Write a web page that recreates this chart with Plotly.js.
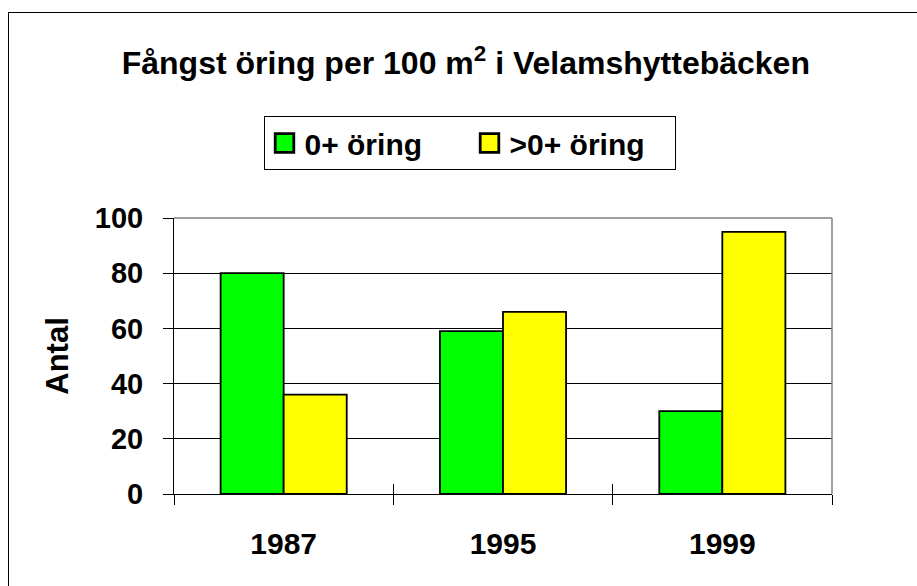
<!DOCTYPE html>
<html>
<head>
<meta charset="utf-8">
<script src="https://cdn.plot.ly/plotly-3.0.1.min.js"></script>
<style>
  html, body { margin: 0; padding: 0; background: #fff; }
  #chart { width: 917px; height: 586px; }
  #frame { position: absolute; left: 8px; top: 12px; width: 2000px; height: 2000px;
           border-left: 1.5px solid #000; border-top: 1.5px solid #000; pointer-events: none; }
  .legendpoints path { transform: translate(20px, 0px) scale(1.55); }
</style>
</head>
<body>
<div id="chart"></div>
<div id="frame"></div>
<script>
// Data
const years = ['1987', '1995', '1999'];
const youngTrout = [80, 59, 30];     // 0+ öring
const olderTrout = [36, 66, 95];     // >0+ öring
const seriesNames = ['0+ öring', '>0+ öring'];
const yTicks = [0, 20, 40, 60, 80, 100];

const FONT = 'Liberation Sans, Arial, sans-serif';

const traces = [
  {
    type: 'bar', name: seriesNames[0], x: years, y: youngTrout,
    marker: { color: '#00FF00', line: { color: '#000', width: 1.8 } },
    hoverinfo: 'x+y'
  },
  {
    type: 'bar', name: seriesNames[1], x: years, y: olderTrout,
    marker: { color: '#FFFF00', line: { color: '#000', width: 1.8 } },
    hoverinfo: 'x+y'
  },
  {
    // invisible helper on overlay axis to draw the inner half of the crossing category ticks
    type: 'scatter', mode: 'none', x: years, y: youngTrout, xaxis: 'x2',
    showlegend: false, hoverinfo: 'skip'
  }
];

const layout = {
  width: 917, height: 586,
  paper_bgcolor: '#fff', plot_bgcolor: '#fff',
  margin: { l: 174, r: 85, t: 218, b: 92 },
  font: { family: FONT, color: '#000', size: 30, weight: 'bold' },
  title: {
    text: 'Fångst öring per 100 m<sup>2</sup> i Velamshyttebäcken',
    font: { family: FONT, size: 32, color: '#000', weight: 'bold' },
    xref: 'container', x: 0.508, xanchor: 'center',
    yref: 'container', y: 0.892, yanchor: 'middle'
  },
  barmode: 'group', bargap: 0.425, bargroupgap: 0,
  showlegend: true,
  legend: {
    orientation: 'h',
    xref: 'container', x: 0.512, xanchor: 'center',
    yref: 'container', y: 0.802, yanchor: 'top',
    bgcolor: '#fff', bordercolor: '#000', borderwidth: 1,
    font: { family: FONT, size: 30, color: '#000', weight: 'bold' },
    entrywidth: 160, entrywidthmode: 'pixels',
    traceorder: 'normal'
  },
  xaxis: {
    type: 'category', range: [-0.5, 2.5],
    showline: true, linecolor: '#000', linewidth: 1,
    ticks: 'outside', ticklen: 10, tickcolor: '#000', tickwidth: 1,
    tickson: 'boundaries', showgrid: false, zeroline: false,
    tickfont: { family: FONT, size: 30, color: '#000', weight: 'bold' },
    ticklabelstandoff: 23,
    fixedrange: true
  },
  xaxis2: {
    type: 'category', range: [-0.5, 2.5], overlaying: 'x', anchor: 'y', side: 'bottom',
    showline: false, ticks: 'inside', ticklen: 10, tickcolor: '#000', tickwidth: 1,
    tickson: 'boundaries', showgrid: false, zeroline: false, showticklabels: false,
    fixedrange: true
  },
  yaxis: {
    range: [0, 100], tickvals: yTicks, ticktext: yTicks.map(String),
    showline: true, linecolor: '#000', linewidth: 1,
    ticks: 'outside', ticklen: 10, tickcolor: '#000', tickwidth: 1,
    showgrid: true, gridcolor: '#000', gridwidth: 1, zeroline: false,
    tickfont: { family: FONT, size: 29, color: '#000', weight: 'bold' },
    ticklabelstandoff: 14,
    title: { text: 'Antal', standoff: 16, font: { family: FONT, size: 31, color: '#000', weight: 'bold' } },
    automargin: false,
    fixedrange: true
  },
  shapes: [
    { type: 'line', xref: 'paper', yref: 'paper', x0: 0, x1: 1, y0: 1, y1: 1,
      line: { color: '#808080', width: 1.5 }, layer: 'above' },
    { type: 'line', xref: 'paper', yref: 'paper', x0: 1, x1: 1, y0: 0, y1: 1,
      line: { color: '#808080', width: 1.5 }, layer: 'above' }
  ]
};

Plotly.newPlot('chart', traces, layout, { displayModeBar: false, staticPlot: true });
</script>
</body>
</html>
